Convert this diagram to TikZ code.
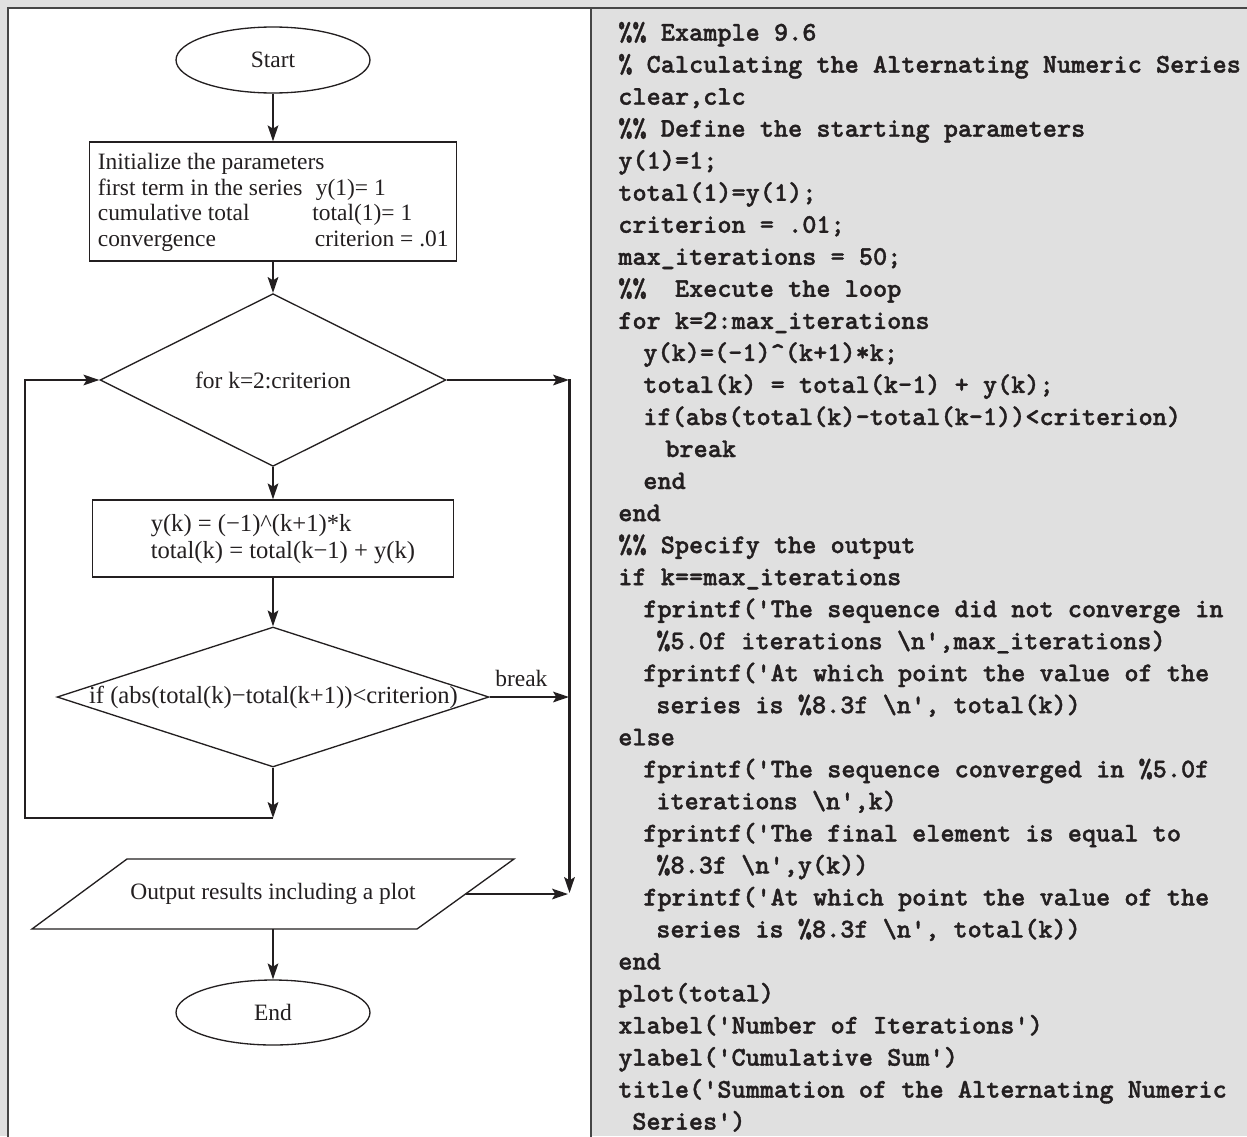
\documentclass[tikz,border=0pt]{standalone}
\usepackage{fontspec}
\setmainfont{Liberation Serif}
\newfontfamily\codefont{lmmonolt10-bold.otf}[FakeBold=1.3]
\usetikzlibrary{shapes.geometric,arrows.meta}
\definecolor{bgc}{RGB}{224,224,224}
\definecolor{ink}{RGB}{35,31,32}
\definecolor{framec}{RGB}{70,70,70}
\begin{document}
\begin{tikzpicture}[x=0.02cm,y=-0.02cm,
  ftxt/.style={font=\fontsize{13.35}{15}\selectfont, text=ink},
  bigtxt/.style={font=\fontsize{14}{16}\selectfont, text=ink},
  lbl/.style={ftxt, anchor=base west, inner sep=0pt},
  shp/.style={draw=ink, line width=0.75pt, fill=white, ftxt},
  arr/.style={draw=ink, line width=1.4pt, line join=miter,
    -{Stealth[length=9pt,width=6pt,inset=1.8pt]}},
  codeline/.style={anchor=base west, inner sep=0pt, text=ink,
    font=\codefont\fontsize{15.34}{18}\selectfont},
  panel/.style={draw=framec, line width=1.2pt}]
\useasboundingbox (0,0) rectangle (1247,1136);
\clip (0,0) rectangle (1247,1136);
% panels
\fill[bgc] (0,0) rectangle (1247,1136);
\fill[white] (8,8) rectangle (591,1140);
\draw[panel] (8,1140) -- (8,8) -- (1250,8);
\draw[panel] (591,8) -- (591,1140);

% ---------- flowchart ----------
\node[shp, ellipse, minimum width=3.88cm, minimum height=1.32cm, inner sep=0pt] (start) at (273,60) {Start};

\node[shp, rectangle, minimum width=7.34cm, minimum height=2.38cm, inner sep=0pt] (init) at (273,201.5) {};
\node[lbl] (i1) at (97.5,169) {Initialize the parameters};
\node[lbl] (i2) at (97.5,195) {first term in the series};
\node[lbl] (i2b) at (315.5,195) {y(1)= 1};
\node[lbl] (i3) at (97.5,220.7) {cumulative total};
\node[lbl] (i3b) at (312,220.7) {total(1)= 1};
\node[lbl] (i4) at (97.5,246) {convergence};
\node[lbl] (i4b) at (314.5,246) {criterion = .01};

\node[shp, diamond, minimum width=6.92cm, minimum height=2.8cm, inner sep=0pt] (d1) at (273,380) {for k=2:criterion};

\node[shp, rectangle, minimum width=7.21cm, minimum height=1.54cm, inner sep=0pt] (box2) at (273,538.5) {};
\node[bigtxt, anchor=base west, inner sep=0pt] (b1) at (150.4,531.7) {y(k) = (−1)\textasciicircum(k+1)*k};
\node[bigtxt, anchor=base west, inner sep=0pt] (b2) at (150.4,558.3) {total(k) = total(k−1) + y(k)};

\node[shp, diamond, minimum width=8.64cm, minimum height=2.8cm, inner sep=0pt] (d2) at (273,697) {};
\node[bigtxt, inner sep=0pt] (d2t) at (273.5,697) {if (abs(total(k)−total(k+1))<criterion)};

\draw[draw=ink, line width=0.75pt, fill=white] (32,929) -- (127,859) -- (514,859) -- (417,929) -- cycle;
\node[ftxt, inner sep=0pt] (out) at (273,894) {Output results including a plot};
\coordinate (outS) at (273,929);
\coordinate (outE) at (465.5,894);

\node[shp, ellipse, minimum width=3.88cm, minimum height=1.3cm, inner sep=0pt] (end) at (273,1012.5) {End};

% connector points
\coordinate (lpA) at (273,818);
\coordinate (lpB) at (25,818);
\coordinate (rD1) at (569,380);
\coordinate (rTop) at (569.5,379.3);
\coordinate (rBot) at (569.5,893);
\coordinate (rD2) at (569,697);
\coordinate (rOut) at (568,894);

% connectors
\draw[arr] (start) -- (init);
\draw[arr] (init) -- (d1);
\draw[arr] (d1) -- (box2);
\draw[arr] (box2) -- (d2);
\draw[arr] (d2.south) -- (lpA);
\draw[arr] (lpA) -- (lpB) |- (d1.west);
\draw[arr] (d1.east) -- (rD1);
\draw[arr] (rTop) -- (rBot);
\draw[arr] (d2.east) -- (rD2);
\node[lbl] (brk) at (495,686.7) {break};
\draw[arr] (outE) -- (rOut);
\draw[arr] (outS) -- (end);

% ---------- code ----------
\node[codeline] (c1)  at (618,40.6)   {\%\% Example 9.6};
\node[codeline] (c2)  at (618,72.6)   {\% Calculating the Alternating Numeric Series};
\node[codeline] (c3)  at (618,104.7)  {clear,clc};
\node[codeline] (c4)  at (618,136.7)  {\%\% Define the starting parameters};
\node[codeline] (c5)  at (618,168.7)  {y(1)=1;};
\node[codeline] (c6)  at (618,200.8)  {total(1)=y(1);};
\node[codeline] (c7)  at (618,232.8)  {criterion = .01;};
\node[codeline] (c8)  at (618,264.8)  {max\_iterations = 50;};
\node[codeline] (c9)  at (618,296.8)  {\%\%\ \ Execute the loop};
\node[codeline] (c10) at (618,328.9)  {for k=2:max\_iterations};
\node[codeline] (c11) at (643,360.9)  {y(k)=(-1)\textasciicircum(k+1)*k;};
\node[codeline] (c12) at (643,392.9)  {total(k) = total(k-1) + y(k);};
\node[codeline] (c13) at (643,425.0)  {if(abs(total(k)-total(k-1))<criterion)};
\node[codeline] (c14) at (665,457.0)  {break};
\node[codeline] (c15) at (643,489.0)  {end};
\node[codeline] (c16) at (618,521.1)  {end};
\node[codeline] (c17) at (618,553.1)  {\%\% Specify the output};
\node[codeline] (c18) at (618,585.1)  {if k==max\_iterations};
\node[codeline] (c19) at (643,617.1)  {fprintf('The sequence did not converge in};
\node[codeline] (c20) at (656,649.2)  {\%5.0f iterations \textbackslash n',max\_iterations)};
\node[codeline] (c21) at (643,681.2)  {fprintf('At which point the value of the};
\node[codeline] (c22) at (656,713.2)  {series is \%8.3f \textbackslash n', total(k))};
\node[codeline] (c23) at (618,745.3)  {else};
\node[codeline] (c24) at (643,777.3)  {fprintf('The sequence converged in \%5.0f};
\node[codeline] (c25) at (656,809.3)  {iterations \textbackslash n',k)};
\node[codeline] (c26) at (643,841.4)  {fprintf('The final element is equal to};
\node[codeline] (c27) at (656,873.4)  {\%8.3f \textbackslash n',y(k))};
\node[codeline] (c28) at (643,905.4)  {fprintf('At which point the value of the};
\node[codeline] (c29) at (656,937.4)  {series is \%8.3f \textbackslash n', total(k))};
\node[codeline] (c30) at (618,969.5)  {end};
\node[codeline] (c31) at (618,1001.5) {plot(total)};
\node[codeline] (c32) at (618,1033.5) {xlabel('Number of Iterations')};
\node[codeline] (c33) at (618,1065.6) {ylabel('Cumulative Sum')};
\node[codeline] (c34) at (618,1097.6) {title('Summation of the Alternating Numeric};
\node[codeline] (c35) at (632,1129.6) {Series')};
\end{tikzpicture}
\end{document}
